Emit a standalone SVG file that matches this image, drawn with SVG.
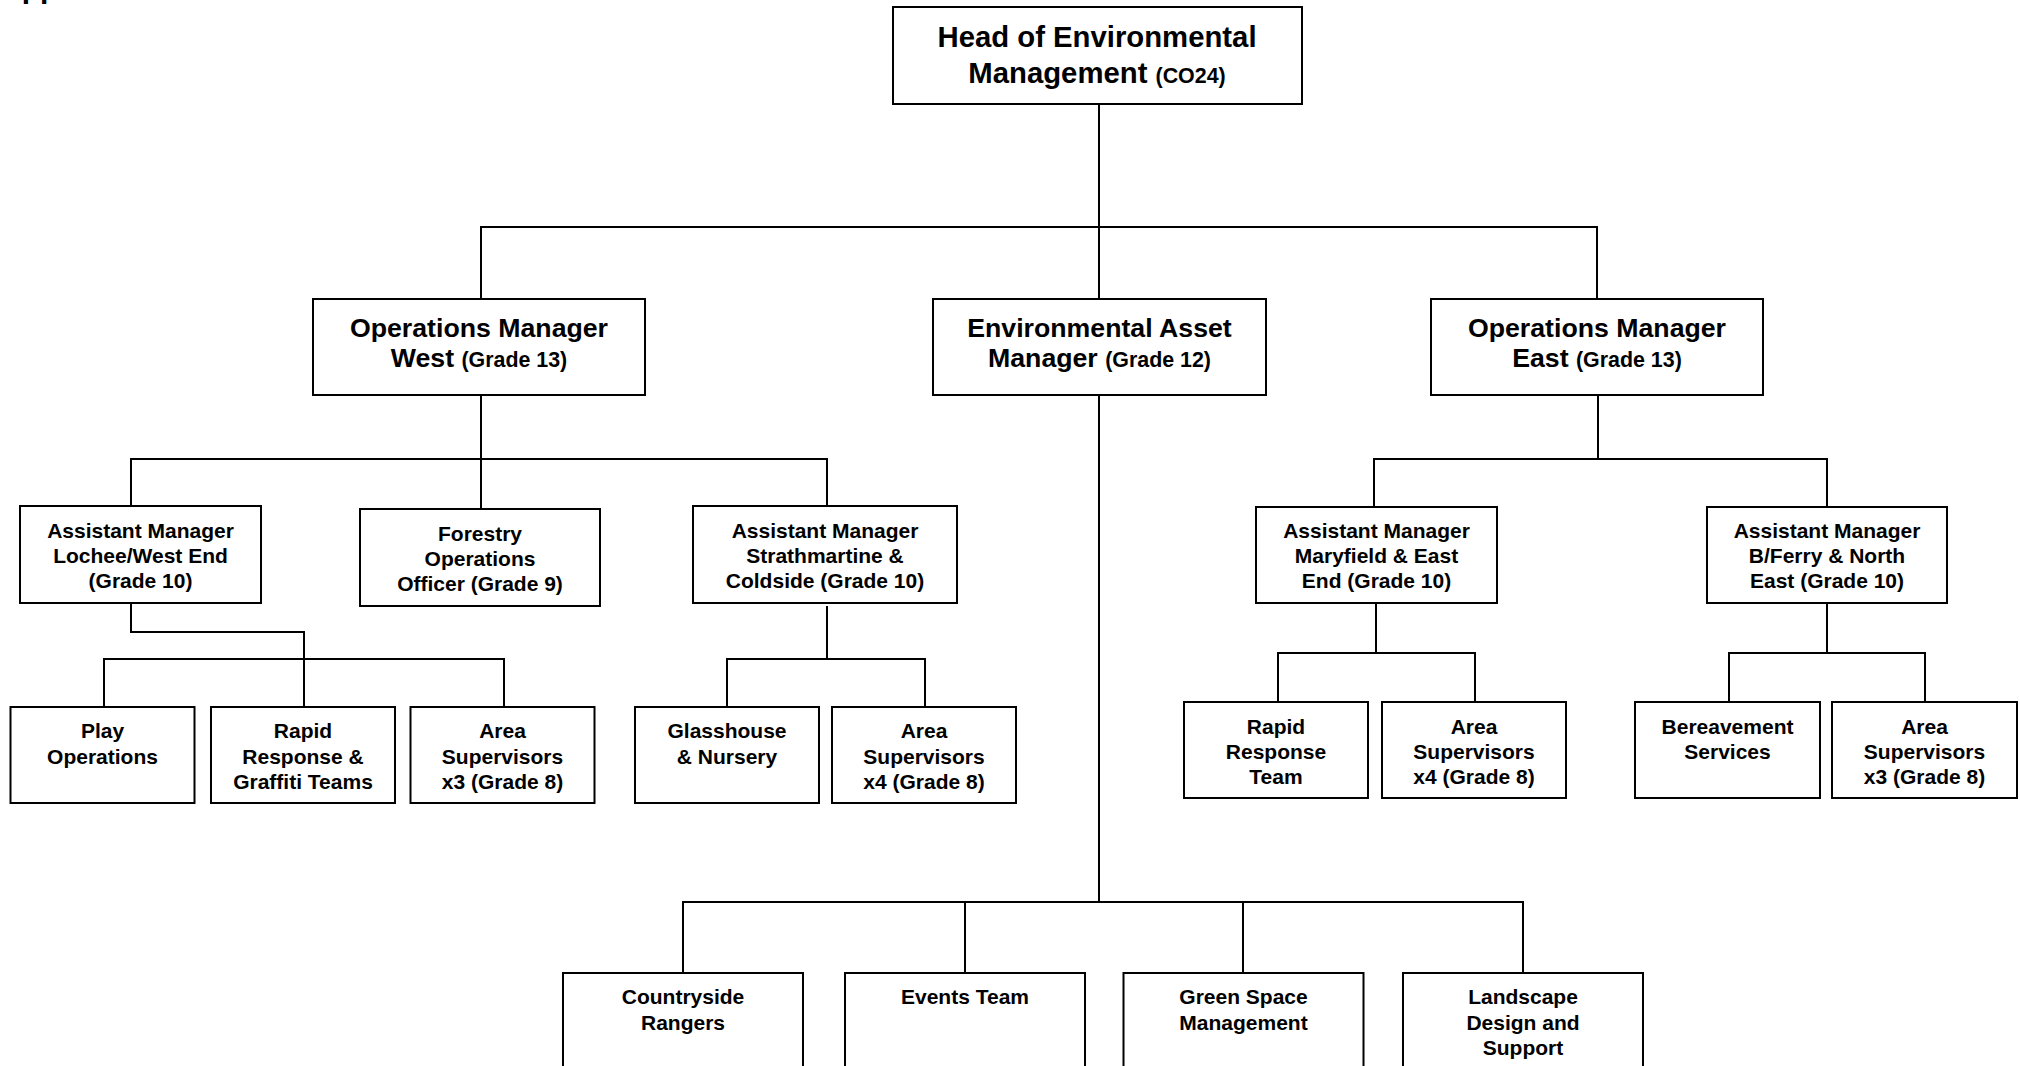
<svg xmlns="http://www.w3.org/2000/svg" width="2020" height="1066" viewBox="0 0 2020 1066">
  <style>
    .box { fill: #ffffff; stroke: #000000; stroke-width: 2; }
    .wire { fill: none; stroke: #000000; stroke-width: 2; stroke-linecap: square; }
    text { font-family: "Liberation Sans", Arial, Helvetica, sans-serif; font-weight: bold; fill: #000000; text-anchor: middle; }
    .h1 { font-size: 29.3px; }
    .h2 { font-size: 26.7px; }
    .s { font-size: 21px; }
    .g { font-size: 21.4px; }
  </style>

  <rect x="0" y="0" width="2020" height="1066" fill="#ffffff"/>

  <!-- page heading, mostly above the top edge -->
  <text x="0" y="-2" style="font-size:30px;text-anchor:start">Appendix 1</text>

  <!-- connectors -->
  <g id="connectors" class="wire">
    <!-- head to second tier -->
    <path d="M1099 104 V227 M481 227 H1597 M481 227 V299 M1099 227 V299 M1597 227 V299"/>
    <!-- operations west -->
    <path d="M481 395 V459 M131 459 H827 M131 459 V506 M481 459 V509 M827 459 V506"/>
    <!-- Lochee / West End -->
    <path d="M131 603 V632 H304 V707 M104 659 H504 M104 659 V707 M504 659 V707"/>
    <!-- Strathmartine & Coldside -->
    <path d="M827 607 V659 M727 659 H925 M727 659 V707 M925 659 V707"/>
    <!-- environmental asset manager -->
    <path d="M1099 395 V902 M683 902 H1523 M683 902 V973 M965 902 V973 M1243 902 V973 M1523 902 V973"/>
    <!-- operations east -->
    <path d="M1598 395 V459 M1374 459 H1827 M1374 459 V507 M1827 459 V507"/>
    <!-- Maryfield & East End -->
    <path d="M1376 603 V653 M1278 653 H1475 M1278 653 V702 M1475 653 V702"/>
    <!-- B/Ferry & North East -->
    <path d="M1827 603 V653 M1729 653 H1925 M1729 653 V702 M1925 653 V702"/>
  </g>

  <!-- top tier -->
  <g id="head">
    <rect class="box" x="893" y="7" width="409" height="97"/>
    <text class="h1" x="1097" y="47">Head of Environmental</text>
    <text class="h1" x="1097" y="83">Management <tspan class="g">(CO24)</tspan></text>
  </g>

  <!-- second tier -->
  <g id="ops-west">
    <rect class="box" x="313" y="299" width="332" height="96"/>
    <text class="h2" x="479" y="337">Operations Manager</text>
    <text class="h2" x="479" y="367">West <tspan class="g">(Grade 13)</tspan></text>
  </g>
  <g id="env-asset">
    <rect class="box" x="933" y="299" width="333" height="96"/>
    <text class="h2" x="1099.5" y="337">Environmental Asset</text>
    <text class="h2" x="1099.5" y="367">Manager <tspan class="g">(Grade 12)</tspan></text>
  </g>
  <g id="ops-east">
    <rect class="box" x="1431" y="299" width="332" height="96"/>
    <text class="h2" x="1597" y="337">Operations Manager</text>
    <text class="h2" x="1597" y="367">East <tspan class="g">(Grade 13)</tspan></text>
  </g>

  <!-- third tier -->
  <g id="am-lochee">
    <rect class="box" x="20" y="506" width="241" height="97"/>
    <text class="s" x="140.5" y="538">Assistant Manager</text>
    <text class="s" x="140.5" y="563">Lochee/West End</text>
    <text class="s" x="140.5" y="588">(Grade 10)</text>
  </g>
  <g id="forestry">
    <rect class="box" x="360" y="509" width="240" height="97"/>
    <text class="s" x="480" y="541">Forestry</text>
    <text class="s" x="480" y="566">Operations</text>
    <text class="s" x="480" y="591">Officer (Grade 9)</text>
  </g>
  <g id="am-strathmartine">
    <rect class="box" x="693" y="506" width="264" height="97"/>
    <text class="s" x="825" y="538">Assistant Manager</text>
    <text class="s" x="825" y="563">Strathmartine &amp;</text>
    <text class="s" x="825" y="588">Coldside (Grade 10)</text>
  </g>
  <g id="am-maryfield">
    <rect class="box" x="1256" y="507" width="241" height="96"/>
    <text class="s" x="1376.5" y="538">Assistant Manager</text>
    <text class="s" x="1376.5" y="563">Maryfield &amp; East</text>
    <text class="s" x="1376.5" y="588">End (Grade 10)</text>
  </g>
  <g id="am-bferry">
    <rect class="box" x="1707" y="507" width="240" height="96"/>
    <text class="s" x="1827" y="538">Assistant Manager</text>
    <text class="s" x="1827" y="563">B/Ferry &amp; North</text>
    <text class="s" x="1827" y="588">East (Grade 10)</text>
  </g>

  <!-- west teams -->
  <g id="play-ops">
    <rect class="box" x="10.5" y="707" width="184" height="96"/>
    <text class="s" x="102.5" y="738">Play</text>
    <text class="s" x="102.5" y="763.5">Operations</text>
  </g>
  <g id="rapid-graffiti">
    <rect class="box" x="211" y="707" width="184" height="96"/>
    <text class="s" x="303" y="738">Rapid</text>
    <text class="s" x="303" y="763.5">Response &amp;</text>
    <text class="s" x="303" y="789">Graffiti Teams</text>
  </g>
  <g id="area-sup-west-3">
    <rect class="box" x="410.5" y="707" width="184" height="96"/>
    <text class="s" x="502.5" y="738">Area</text>
    <text class="s" x="502.5" y="763.5">Supervisors</text>
    <text class="s" x="502.5" y="789">x3 (Grade 8)</text>
  </g>
  <g id="glasshouse">
    <rect class="box" x="635" y="707" width="184" height="96"/>
    <text class="s" x="727" y="738">Glasshouse</text>
    <text class="s" x="727" y="763.5">&amp; Nursery</text>
  </g>
  <g id="area-sup-west-4">
    <rect class="box" x="832" y="707" width="184" height="96"/>
    <text class="s" x="924" y="738">Area</text>
    <text class="s" x="924" y="763.5">Supervisors</text>
    <text class="s" x="924" y="789">x4 (Grade 8)</text>
  </g>

  <!-- east teams -->
  <g id="rapid-east">
    <rect class="box" x="1184" y="702" width="184" height="96"/>
    <text class="s" x="1276" y="733.5">Rapid</text>
    <text class="s" x="1276" y="758.5">Response</text>
    <text class="s" x="1276" y="783.5">Team</text>
  </g>
  <g id="area-sup-east-4">
    <rect class="box" x="1382" y="702" width="184" height="96"/>
    <text class="s" x="1474" y="733.5">Area</text>
    <text class="s" x="1474" y="758.5">Supervisors</text>
    <text class="s" x="1474" y="783.5">x4 (Grade 8)</text>
  </g>
  <g id="bereavement">
    <rect class="box" x="1635" y="702" width="185" height="96"/>
    <text class="s" x="1727.5" y="733.5">Bereavement</text>
    <text class="s" x="1727.5" y="758.5">Services</text>
  </g>
  <g id="area-sup-east-3">
    <rect class="box" x="1832" y="702" width="185" height="96"/>
    <text class="s" x="1924.5" y="733.5">Area</text>
    <text class="s" x="1924.5" y="758.5">Supervisors</text>
    <text class="s" x="1924.5" y="783.5">x3 (Grade 8)</text>
  </g>

  <!-- asset teams (run past the lower edge) -->
  <g id="countryside">
    <rect class="box" x="563" y="973" width="240" height="130"/>
    <text class="s" x="683" y="1004">Countryside</text>
    <text class="s" x="683" y="1029.5">Rangers</text>
  </g>
  <g id="events">
    <rect class="box" x="845" y="973" width="240" height="130"/>
    <text class="s" x="965" y="1004">Events Team</text>
  </g>
  <g id="green-space">
    <rect class="box" x="1123.5" y="973" width="240" height="130"/>
    <text class="s" x="1243.5" y="1004">Green Space</text>
    <text class="s" x="1243.5" y="1029.5">Management</text>
  </g>
  <g id="landscape">
    <rect class="box" x="1403" y="973" width="240" height="130"/>
    <text class="s" x="1523" y="1004">Landscape</text>
    <text class="s" x="1523" y="1029.5">Design and</text>
    <text class="s" x="1523" y="1055">Support</text>
  </g>
</svg>
